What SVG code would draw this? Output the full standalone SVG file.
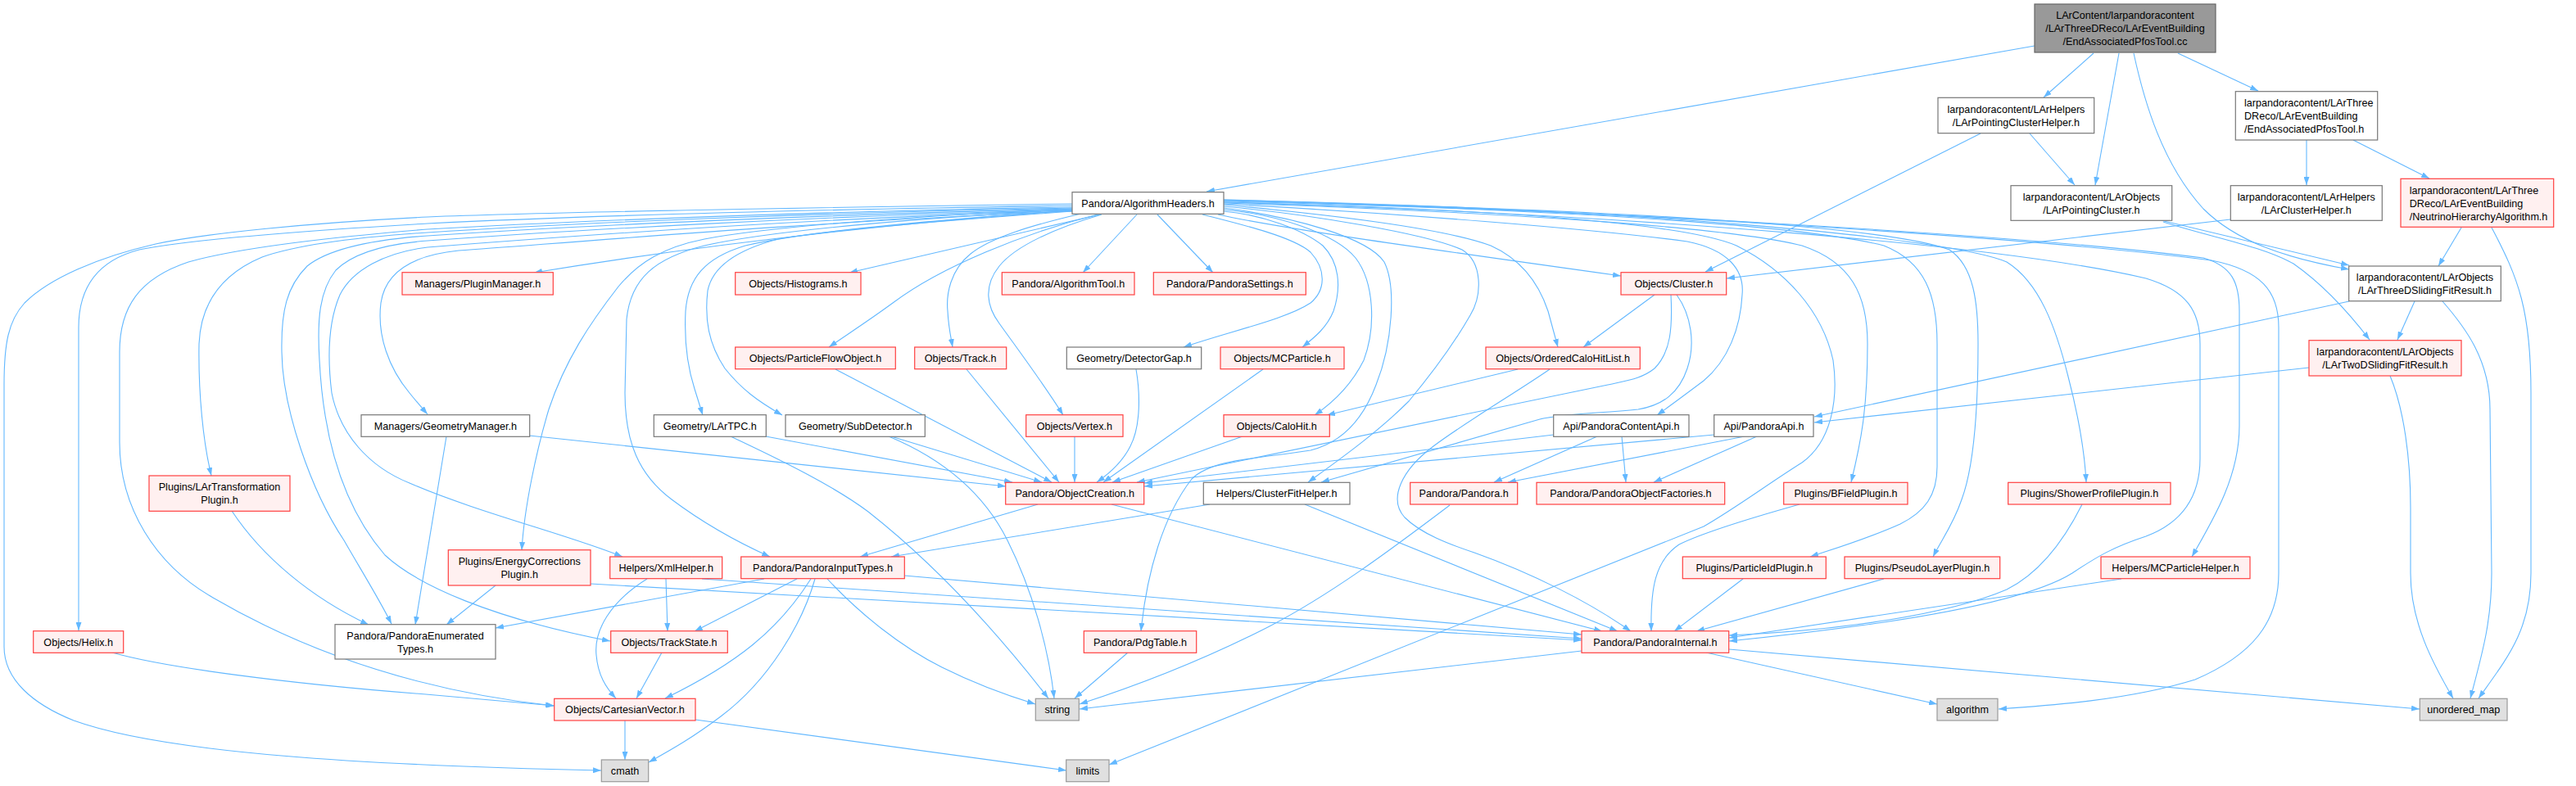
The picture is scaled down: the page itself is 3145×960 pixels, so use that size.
<svg xmlns="http://www.w3.org/2000/svg" width="3145" height="960" viewBox="0 0 3145 960">
<defs>
<marker id="a" viewBox="0 0 10 7" refX="10" refY="3.5" markerWidth="10" markerHeight="7" markerUnits="userSpaceOnUse" orient="auto">
<path d="M0,0 L10,3.5 L0,7 z" fill="#63b8ff"/>
</marker>
<style>
text{font-family:"Liberation Sans",Arial,Helvetica,sans-serif;font-size:12.6px;fill:#000}
.c{text-anchor:middle}
.red rect{fill:#fff0f0;stroke:#ff4040;stroke-width:1.2}
.gry rect{fill:#ffffff;stroke:#777777;stroke-width:1.2}
.sys rect{fill:#e0e0e0;stroke:#999999;stroke-width:1.2}
.root rect{fill:#999999;stroke:#666666;stroke-width:1.2}
#edges path{fill:none;stroke:#63b8ff;stroke-width:1.1;marker-end:url(#a)}
</style>
</defs>
<rect width="3145" height="960" fill="#ffffff"/>
<g id="edges">
<path d="M2484,56 L1473,234"/>
<path d="M2556,65 L2495,119"/>
<path d="M2587,65 L2558,226"/>
<path d="M2659,65 L2757,111"/>
<path d="M2605,65 C2618,125 2640,200 2690,255 C2730,295 2790,315 2868,329"/>
<path d="M2418,163 L2082,332"/>
<path d="M2478,163 L2533,226"/>
<path d="M2638,269 L2868,324"/>
<path d="M2641,271 C2700,290 2760,300 2800,322 C2840,350 2870,385 2893,415"/>
<path d="M2816,171 L2816,226"/>
<path d="M2873,171 L2966,218"/>
<path d="M2723,268 L2108,340"/>
<path d="M3005,278 L2977,325"/>
<path d="M3042,278 C3075,340 3090,380 3090,480 L3090,700 C3090,770 3060,805 3026,853"/>
<path d="M2948,368 L2927,415"/>
<path d="M2982,368 C3010,400 3040,440 3040,500 L3042,700 C3042,760 3030,800 3016,853"/>
<path d="M2868,368 L2215,509"/>
<path d="M2819,449 L2215,516"/>
<path d="M2918,459 C2935,500 2943,560 2943,620 L2943,700 C2943,760 2970,810 2995,853"/>
<path d="M1309,249 C1100,252 700,258 522,265 C380,272 250,285 190,298 C120,314 60,340 30,370 C10,392 5,420 5,470 L5,790 C5,830 40,860 90,880 C200,920 450,935 734,941"/>
<path d="M1309,251 C1000,256 700,264 522,273 C350,283 230,293 170,305 C120,318 96,350 96,400 L96,770"/>
<path d="M1309,253 C1000,258 700,270 522,280 C400,290 290,303 230,320 C170,340 146,375 146,430 L146,540 C146,620 190,690 260,730 C380,800 520,845 676,862"/>
<path d="M1309,254 C1000,260 700,272 522,284 C430,290 360,300 320,314 C270,335 245,370 243,420 C242,480 248,540 258,581"/>
<path d="M1309,255 C1000,262 700,276 522,288 C450,293 400,305 375,325 C350,350 343,380 344,430 C345,500 380,600 420,660 C440,695 462,730 478,762"/>
<path d="M1309,256 C1000,264 700,281 522,294 C470,298 430,310 410,330 C390,355 387,390 390,440 C395,540 420,620 470,678 C510,715 600,755 745,783"/>
<path d="M1309,257 C1000,266 700,288 522,302 C470,308 430,330 415,360 C400,395 400,440 405,480 C415,530 450,570 500,590 C580,625 700,655 760,680"/>
<path d="M1309,258 C1000,270 700,296 560,306 C500,312 470,335 465,370 C460,410 475,450 500,480 C508,490 515,498 522,506"/>
<path d="M1309,257 C1150,268 900,292 652,333"/>
<path d="M1343,262 L1037,333"/>
<path d="M1340,262 C1250,285 1150,325 1090,370 C1060,392 1035,408 1012,424"/>
<path d="M1320,261 C1260,275 1210,290 1185,310 C1160,330 1155,360 1157,380 C1158,400 1161,412 1163,424"/>
<path d="M1345,262 C1290,278 1240,300 1220,325 C1200,350 1205,375 1220,395 C1245,430 1275,470 1298,507"/>
<path d="M1388,262 L1322,333"/>
<path d="M1413,262 L1481,333"/>
<path d="M1309,255 C1150,262 950,275 860,292 C810,302 780,320 755,350 C720,395 690,440 670,500 C655,550 640,620 637,672"/>
<path d="M1309,256 C1150,265 950,280 860,300 C800,315 770,340 765,390 L763,480 C763,540 780,580 820,610 C860,640 900,662 940,680"/>
<path d="M1309,257 C1150,268 980,283 910,300 C860,315 840,340 837,380 C835,420 840,450 848,475 L858,507"/>
<path d="M1309,258 C1150,270 1000,282 950,292 C900,305 870,325 864,355 C860,390 865,420 885,450 C905,475 925,490 955,507"/>
<path d="M1487,262 C1560,278 1700,298 1979,337"/>
<path d="M1494,258 C1540,262 1590,280 1615,300 C1635,320 1638,350 1628,380 C1620,400 1605,412 1590,424"/>
<path d="M1468,262 C1520,275 1580,290 1600,308 C1620,330 1618,355 1600,370 C1570,390 1500,405 1445,424"/>
<path d="M1494,256 C1560,262 1630,285 1655,315 C1678,345 1680,400 1665,440 C1650,470 1630,490 1605,507"/>
<path d="M1494,254 C1580,265 1670,290 1690,320 C1705,350 1700,420 1680,470 C1665,510 1640,540 1600,550 C1540,560 1480,560 1455,585 C1420,630 1400,700 1393,771"/>
<path d="M1494,252 C1600,262 1740,285 1785,305 C1810,320 1810,360 1795,385 C1775,420 1745,460 1720,490 C1680,530 1630,565 1597,589"/>
<path d="M1494,250 C1620,262 1760,278 1820,300 C1860,318 1880,350 1890,380 L1902,424"/>
<path d="M1494,249 C1700,260 1950,280 2060,295 C2110,305 2130,330 2127,360 C2125,400 2110,440 2080,465 C2060,480 2040,495 2023,507"/>
<path d="M1494,248 C1800,258 2100,275 2200,300 C2260,320 2280,360 2280,420 C2280,500 2272,540 2260,589"/>
<path d="M1494,247 C1800,255 2050,270 2120,300 C2180,330 2225,380 2238,440 C2245,490 2235,540 2200,565 C2160,590 2120,620 2080,643 L1354,934"/>
<path d="M1494,246 C1900,255 2200,275 2300,300 C2350,320 2365,360 2365,420 L2365,570 C2365,605 2350,625 2320,640 C2280,658 2240,670 2210,680"/>
<path d="M1494,245 C1950,255 2300,275 2380,305 C2410,325 2415,370 2415,420 C2415,500 2410,570 2395,610 C2385,640 2370,660 2360,680"/>
<path d="M1494,244 C2000,255 2380,290 2450,320 C2490,345 2510,400 2525,460 C2538,510 2545,550 2547,589"/>
<path d="M1494,247 C2000,262 2450,300 2620,340 C2670,355 2686,380 2686,420 L2686,560 C2686,610 2660,640 2620,655 C2580,668 2560,680 2530,700 C2490,725 2400,745 2300,760 C2230,770 2160,778 2111,783"/>
<path d="M1494,245 C2000,258 2500,290 2690,315 C2725,325 2734,345 2734,380 L2734,520 C2734,580 2705,630 2676,680"/>
<path d="M1494,244 C2000,258 2500,292 2700,318 C2760,330 2782,355 2782,400 L2782,700 C2782,760 2750,800 2680,830 C2600,855 2500,862 2440,866"/>
<path d="M2020,360 L1933,424"/>
<path d="M2040,360 C2042,400 2040,430 2020,450 C2005,462 1990,464 1963,470 L1388,589"/>
<path d="M2047,360 C2065,385 2070,420 2060,450 C2050,480 2030,495 2000,500 C1950,505 1910,505 1880,512 L1613,589"/>
<path d="M1853,451 L1620,507"/>
<path d="M1892,451 C1850,480 1790,515 1750,545 C1710,575 1695,610 1715,632 C1735,652 1770,665 1800,675 C1870,700 1940,735 1991,771"/>
<path d="M1542,451 L1347,589"/>
<path d="M1387,451 C1392,480 1393,520 1380,545 C1370,565 1355,578 1339,589"/>
<path d="M1517,533 L1358,589"/>
<path d="M1312,533 L1312,589"/>
<path d="M1180,451 L1293,589"/>
<path d="M1020,451 L1284,589"/>
<path d="M1088,533 L1272,589"/>
<path d="M935,533 L1236,589"/>
<path d="M646,532 L1228,594"/>
<path d="M1085,533 C1150,560 1200,600 1230,660 C1260,720 1280,790 1287,853"/>
<path d="M892,533 C960,565 1020,595 1060,625 C1130,680 1200,750 1280,853"/>
<path d="M1010,707 C1050,750 1100,790 1150,815 C1190,835 1225,848 1264,860"/>
<path d="M1377,797 L1312,853"/>
<path d="M1770,617 C1700,670 1620,730 1540,770 C1460,810 1380,840 1318,860"/>
<path d="M1931,795 L1318,866"/>
<path d="M2083,797 L2365,860"/>
<path d="M2111,793 L2954,866"/>
<path d="M763,880 L763,928"/>
<path d="M849,879 L1302,941"/>
<path d="M995,707 C980,760 940,830 880,875 C840,905 815,918 792,931"/>
<path d="M990,707 C950,770 900,810 812,853"/>
<path d="M973,707 L848,771"/>
<path d="M933,707 L605,767"/>
<path d="M1104,703 L1931,775"/>
<path d="M813,707 L815,771"/>
<path d="M790,707 C745,735 725,770 728,800 C730,825 740,840 752,853"/>
<path d="M857,707 L1931,780"/>
<path d="M721,713 L1931,782"/>
<path d="M605,715 L545,763"/>
<path d="M545,533 L507,763"/>
<path d="M283,624 C320,680 380,730 450,763"/>
<path d="M137,797 C200,815 350,835 520,848 L677,862"/>
<path d="M808,797 L777,853"/>
<path d="M1267,616 L1050,680"/>
<path d="M1357,616 L1956,771"/>
<path d="M1477,616 L1088,680"/>
<path d="M1593,616 L1975,771"/>
<path d="M2197,616 C2140,632 2080,650 2050,665 C2020,685 2015,720 2016,771"/>
<path d="M2128,707 L2044,771"/>
<path d="M2300,707 L2071,771"/>
<path d="M2542,616 C2520,660 2490,700 2450,720 C2380,750 2250,770 2111,776"/>
<path d="M2590,707 L2111,779"/>
<path d="M1897,531 L1397,590"/>
<path d="M2093,531 L1397,594"/>
<path d="M1950,533 L1824,589"/>
<path d="M1980,533 L1985,589"/>
<path d="M2130,533 L1841,589"/>
<path d="M2145,533 L2019,589"/>
</g>
<g id="root" class="root"><rect x="2484" y="5" width="221" height="59"/><text class="c"><tspan x="2594.5" y="22.8">LArContent/larpandoracontent</tspan><tspan x="2594.5" y="38.8">/LArThreeDReco/LArEventBuilding</tspan><tspan x="2594.5" y="54.8">/EndAssociatedPfosTool.cc</tspan></text></g>
<g id="n_pch" class="gry"><rect x="2366" y="119.3" width="190.7" height="43.4"/><text class="c"><tspan x="2461.4" y="137.8">larpandoracontent/LArHelpers</tspan><tspan x="2461.4" y="154.2">/LArPointingClusterHelper.h</tspan></text></g>
<g id="n_eapt" class="gry"><rect x="2729.3" y="111.7" width="173.4" height="59.3"/><text><tspan x="2740" y="130.2">larpandoracontent/LArThree</tspan><tspan x="2740" y="146.2">DReco/LArEventBuilding</tspan><tspan x="2740" y="161.8">/EndAssociatedPfosTool.h</tspan></text></g>
<g id="n_ah" class="gry"><rect x="1309" y="234.7" width="185" height="26.6"/><text class="c" x="1401.5" y="252.5">Pandora/AlgorithmHeaders.h</text></g>
<g id="n_pc" class="gry"><rect x="2455" y="226.7" width="196.7" height="42.6"/><text class="c"><tspan x="2553.4" y="244.5">larpandoracontent/LArObjects</tspan><tspan x="2553.4" y="260.8">/LArPointingCluster.h</tspan></text></g>
<g id="n_ch" class="gry"><rect x="2723.3" y="226.7" width="185" height="42.6"/><text class="c"><tspan x="2815.8" y="244.5">larpandoracontent/LArHelpers</tspan><tspan x="2815.8" y="260.8">/LArClusterHelper.h</tspan></text></g>
<g id="n_nha" class="red"><rect x="2931" y="218.3" width="186.7" height="59"/><text><tspan x="2941.7" y="236.8">larpandoracontent/LArThree</tspan><tspan x="2941.7" y="252.8">DReco/LArEventBuilding</tspan><tspan x="2941.7" y="268.8">/NeutrinoHierarchyAlgorithm.h</tspan></text></g>
<g id="n_pm" class="red"><rect x="491" y="332.7" width="184.3" height="27.3"/><text class="c" x="583.2" y="350.8">Managers/PluginManager.h</text></g>
<g id="n_hi" class="red"><rect x="897.7" y="332.7" width="153.3" height="27.3"/><text class="c" x="974.4" y="350.8">Objects/Histograms.h</text></g>
<g id="n_at" class="red"><rect x="1223.3" y="332.7" width="161.7" height="27.3"/><text class="c" x="1304.2" y="350.8">Pandora/AlgorithmTool.h</text></g>
<g id="n_ps" class="red"><rect x="1408.3" y="332.7" width="186" height="27.3"/><text class="c" x="1501.3" y="350.8">Pandora/PandoraSettings.h</text></g>
<g id="n_cl" class="red"><rect x="1979" y="332.7" width="128.7" height="27.3"/><text class="c" x="2043.4" y="350.8">Objects/Cluster.h</text></g>
<g id="n_3d" class="gry"><rect x="2867.7" y="325" width="185.6" height="42.7"/><text class="c"><tspan x="2960.5" y="343.2">larpandoracontent/LArObjects</tspan><tspan x="2960.5" y="358.8">/LArThreeDSlidingFitResult.h</tspan></text></g>
<g id="n_pfo" class="red"><rect x="897.7" y="424" width="195.6" height="26.7"/><text class="c" x="995.5" y="441.8">Objects/ParticleFlowObject.h</text></g>
<g id="n_tr" class="red"><rect x="1116.7" y="424" width="112" height="26.7"/><text class="c" x="1172.7" y="441.8">Objects/Track.h</text></g>
<g id="n_dg" class="gry"><rect x="1302.3" y="424" width="164.4" height="26.7"/><text class="c" x="1384.5" y="441.8">Geometry/DetectorGap.h</text></g>
<g id="n_mcp" class="red"><rect x="1490" y="424" width="151" height="26.7"/><text class="c" x="1565.5" y="441.8">Objects/MCParticle.h</text></g>
<g id="n_ochl" class="red"><rect x="1814" y="424" width="188.3" height="26.7"/><text class="c" x="1908.2" y="441.8">Objects/OrderedCaloHitList.h</text></g>
<g id="n_2d" class="red"><rect x="2819" y="415.7" width="186" height="43.3"/><text class="c"><tspan x="2912" y="434.2">larpandoracontent/LArObjects</tspan><tspan x="2912" y="449.8">/LArTwoDSlidingFitResult.h</tspan></text></g>
<g id="n_gm" class="gry"><rect x="441" y="506.7" width="205.7" height="26.6"/><text class="c" x="543.9" y="524.5">Managers/GeometryManager.h</text></g>
<g id="n_tpc" class="gry"><rect x="798.3" y="506.7" width="137" height="26.6"/><text class="c" x="866.8" y="524.5">Geometry/LArTPC.h</text></g>
<g id="n_sd" class="gry"><rect x="959" y="506.7" width="170.3" height="26.6"/><text class="c" x="1044.2" y="524.5">Geometry/SubDetector.h</text></g>
<g id="n_vx" class="red"><rect x="1252.7" y="506.7" width="118.3" height="26.6"/><text class="c" x="1311.9" y="524.5">Objects/Vertex.h</text></g>
<g id="n_calo" class="red"><rect x="1494" y="506.7" width="129.3" height="26.6"/><text class="c" x="1558.7" y="524.5">Objects/CaloHit.h</text></g>
<g id="n_pca" class="gry"><rect x="1896.7" y="506.7" width="165.3" height="26.6"/><text class="c" x="1979.4" y="524.5">Api/PandoraContentApi.h</text></g>
<g id="n_pa" class="gry"><rect x="2092.7" y="506.7" width="121.3" height="26.6"/><text class="c" x="2153.4" y="524.5">Api/PandoraApi.h</text></g>
<g id="n_ltp" class="red"><rect x="182" y="581" width="172" height="43.3"/><text class="c"><tspan x="268" y="598.8">Plugins/LArTransformation</tspan><tspan x="268" y="615.2">Plugin.h</tspan></text></g>
<g id="n_oc" class="red"><rect x="1227.7" y="589.3" width="169" height="26.7"/><text class="c" x="1312.2" y="607.2">Pandora/ObjectCreation.h</text></g>
<g id="n_cfh" class="gry"><rect x="1469.3" y="589.3" width="178.7" height="26.7"/><text class="c" x="1558.7" y="607.2">Helpers/ClusterFitHelper.h</text></g>
<g id="n_pan" class="red"><rect x="1721.7" y="589.3" width="131" height="26.7"/><text class="c" x="1787.2" y="607.2">Pandora/Pandora.h</text></g>
<g id="n_pof" class="red"><rect x="1876" y="589.3" width="229.7" height="26.7"/><text class="c" x="1990.9" y="607.2">Pandora/PandoraObjectFactories.h</text></g>
<g id="n_bf" class="red"><rect x="2177.7" y="589.3" width="151.3" height="26.7"/><text class="c" x="2253.4" y="607.2">Plugins/BFieldPlugin.h</text></g>
<g id="n_sp" class="red"><rect x="2451.7" y="589.3" width="198.3" height="26.7"/><text class="c" x="2550.9" y="607.2">Plugins/ShowerProfilePlugin.h</text></g>
<g id="n_ec" class="red"><rect x="547.3" y="671.7" width="173.7" height="43.3"/><text class="c"><tspan x="634.2" y="690.2">Plugins/EnergyCorrections</tspan><tspan x="634.2" y="705.8">Plugin.h</tspan></text></g>
<g id="n_xml" class="red"><rect x="744.7" y="680" width="137" height="26.7"/><text class="c" x="813.2" y="697.8">Helpers/XmlHelper.h</text></g>
<g id="n_pit" class="red"><rect x="904.7" y="680" width="199.6" height="26.7"/><text class="c" x="1004.5" y="697.8">Pandora/PandoraInputTypes.h</text></g>
<g id="n_pid" class="red"><rect x="2054.3" y="680" width="175" height="26.7"/><text class="c" x="2141.8" y="697.8">Plugins/ParticleIdPlugin.h</text></g>
<g id="n_pl" class="red"><rect x="2252" y="680" width="189.7" height="26.7"/><text class="c" x="2346.9" y="697.8">Plugins/PseudoLayerPlugin.h</text></g>
<g id="n_mch" class="red"><rect x="2565" y="680" width="182" height="26.7"/><text class="c" x="2656" y="697.8">Helpers/MCParticleHelper.h</text></g>
<g id="n_hx" class="red"><rect x="40.7" y="770.7" width="110" height="26.6"/><text class="c" x="95.7" y="788.5">Objects/Helix.h</text></g>
<g id="n_pet" class="gry"><rect x="409" y="762.7" width="196" height="42.3"/><text class="c"><tspan x="507" y="780.5">Pandora/PandoraEnumerated</tspan><tspan x="507" y="796.8">Types.h</tspan></text></g>
<g id="n_ts" class="red"><rect x="745.7" y="770.7" width="142.6" height="26.6"/><text class="c" x="817" y="788.5">Objects/TrackState.h</text></g>
<g id="n_pdg" class="red"><rect x="1323.3" y="770.7" width="137.4" height="26.6"/><text class="c" x="1392" y="788.5">Pandora/PdgTable.h</text></g>
<g id="n_pi" class="red"><rect x="1931" y="770.7" width="179.7" height="26.6"/><text class="c" x="2020.9" y="788.5">Pandora/PandoraInternal.h</text></g>
<g id="n_cv" class="red"><rect x="676.7" y="853.3" width="172.3" height="26.7"/><text class="c" x="762.9" y="871.2">Objects/CartesianVector.h</text></g>
<g id="n_str" class="sys"><rect x="1264.3" y="853.3" width="53" height="26.7"/><text class="c" x="1290.8" y="871.2">string</text></g>
<g id="n_alg" class="sys"><rect x="2365" y="853.3" width="74" height="26.7"/><text class="c" x="2402" y="871.2">algorithm</text></g>
<g id="n_um" class="sys"><rect x="2954.3" y="853.3" width="106.7" height="26.7"/><text class="c" x="3007.7" y="871.2">unordered_map</text></g>
<g id="n_cm" class="sys"><rect x="734.3" y="928" width="57.4" height="26.7"/><text class="c" x="763" y="945.8">cmath</text></g>
<g id="n_lim" class="sys"><rect x="1301.7" y="928" width="52.3" height="26.7"/><text class="c" x="1327.9" y="945.8">limits</text></g>
</svg>
